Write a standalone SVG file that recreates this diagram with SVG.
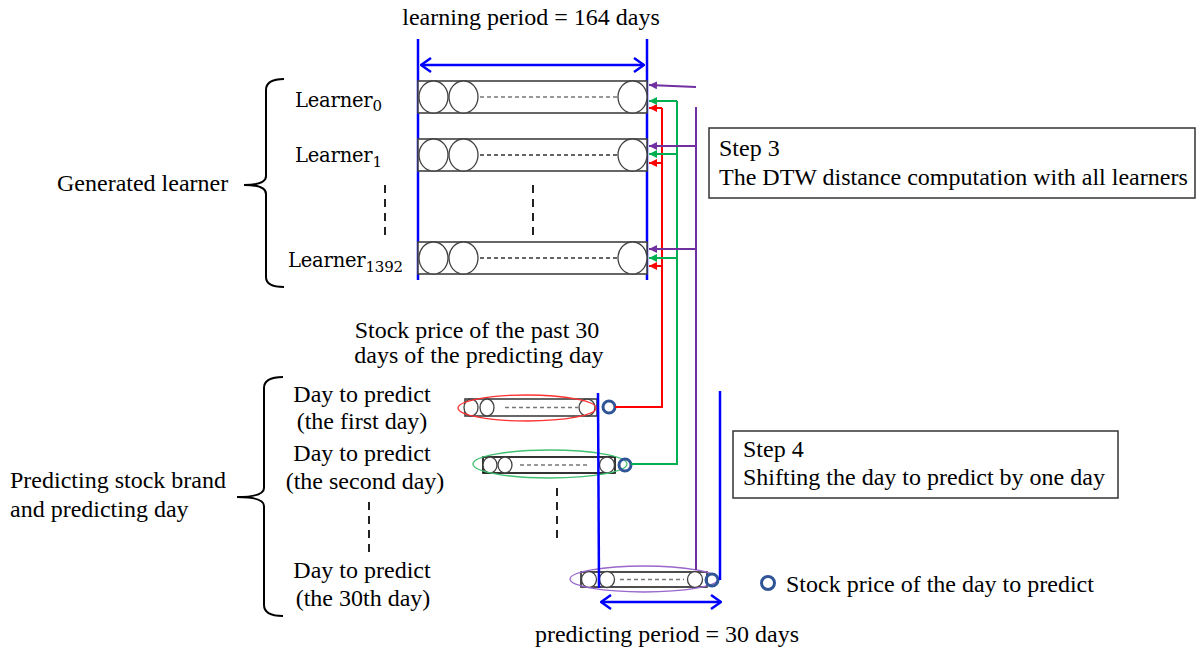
<svg xmlns="http://www.w3.org/2000/svg" width="1203" height="655" viewBox="0 0 1203 655">
<style>
.t{font-family:"Liberation Serif","Times New Roman",serif;font-size:24px;fill:#000}
.lt{font-family:"DejaVu Serif",serif;font-size:19.5px;fill:#000;letter-spacing:-0.2px}
.sub{font-size:15px}
.bar{fill:#fff;stroke:#404040;stroke-width:1.6}
.cir{fill:#fff;stroke:#404040;stroke-width:1.3}
.dash{stroke:#777;stroke-width:1.3;stroke-dasharray:4 3}
.vdash{stroke:#222;stroke-width:2;stroke-dasharray:8 6}
.blue{stroke:#0000ff;stroke-width:2.5;fill:none}
.dot{fill:none;stroke:#2f5597;stroke-width:3}
.box{fill:#fff;stroke:#333;stroke-width:1.5}
.brace{fill:none;stroke:#000;stroke-width:2}
.red{stroke:#ff0000;stroke-width:2;fill:none}
.grn{stroke:#00b050;stroke-width:2;fill:none}
.pur{stroke:#7030a0;stroke-width:2;fill:none}
</style>
<defs>
<marker id="ob" viewBox="0 0 12 16" refX="11" refY="8" markerWidth="12" markerHeight="16" markerUnits="userSpaceOnUse" orient="auto-start-reverse">
<path d="M1,1 L11,8 L1,15" fill="none" stroke="#0000ff" stroke-width="2.5"/>
</marker>
<marker id="ar" viewBox="0 0 8 8" refX="8" refY="4" markerWidth="8" markerHeight="8" markerUnits="userSpaceOnUse" orient="auto"><path d="M0,0 L8,4 L0,8 Z" fill="#ff0000"/></marker>
<marker id="ag" viewBox="0 0 8 8" refX="8" refY="4" markerWidth="8" markerHeight="8" markerUnits="userSpaceOnUse" orient="auto"><path d="M0,0 L8,4 L0,8 Z" fill="#00b050"/></marker>
<marker id="ap" viewBox="0 0 8 8" refX="8" refY="4" markerWidth="8" markerHeight="8" markerUnits="userSpaceOnUse" orient="auto"><path d="M0,0 L8,4 L0,8 Z" fill="#7030a0"/></marker>
</defs>

<g id="title">
<text class="t" x="531" y="25" text-anchor="middle">learning period = 164 days</text>
</g>

<g id="learning-period">
<line class="blue" x1="418" y1="39" x2="418" y2="280"/>
<line class="blue" x1="647" y1="39" x2="647" y2="280"/>
<line class="blue" x1="421" y1="65" x2="644" y2="65" marker-start="url(#ob)" marker-end="url(#ob)"/>
</g>

<g id="generated-learner">
<text class="t" x="57" y="191">Generated learner</text>
<path class="brace" d="M284,79 Q266,79 266,90 L266,176 Q266,185 244,185 Q266,185 266,194 L266,277 Q266,287 284,287"/>
</g>

<g id="learner0">
<text class="lt" x="295" y="107">Learner<tspan class="sub" dy="4">0</tspan></text>
<rect class="bar" x="418" y="81" width="229" height="32"/>
<ellipse class="cir" cx="433.5" cy="97" rx="14.5" ry="16"/>
<ellipse class="cir" cx="463.5" cy="97" rx="14.5" ry="16"/>
<line class="dash" x1="480" y1="97" x2="617" y2="97"/>
<ellipse class="cir" cx="632.5" cy="97" rx="14.5" ry="16"/>
</g>

<g id="learner1">
<text class="lt" x="295" y="162">Learner<tspan class="sub" dy="4.5">1</tspan></text>
<rect class="bar" x="418" y="139" width="229" height="32"/>
<ellipse class="cir" cx="433.5" cy="155" rx="14.5" ry="16"/>
<ellipse class="cir" cx="463.5" cy="155" rx="14.5" ry="16"/>
<line class="dash" x1="480" y1="155" x2="617" y2="155" style="stroke:#333"/>
<ellipse class="cir" cx="632.5" cy="155" rx="14.5" ry="16"/>
</g>

<g id="learner-ellipsis">
<line class="vdash" x1="385" y1="185" x2="385" y2="235"/>
<line class="vdash" x1="533" y1="185" x2="533" y2="235"/>
</g>

<g id="learner1392">
<text class="lt" x="288" y="267">Learner<tspan class="sub" dy="5">1392</tspan></text>
<rect class="bar" x="418" y="242" width="229" height="32"/>
<ellipse class="cir" cx="433.5" cy="258" rx="14.5" ry="16"/>
<ellipse class="cir" cx="463.5" cy="258" rx="14.5" ry="16"/>
<line class="dash" x1="480" y1="258" x2="617" y2="258" style="stroke:#333"/>
<ellipse class="cir" cx="632.5" cy="258" rx="14.5" ry="16"/>
</g>

<g id="step3">
<rect class="box" x="709" y="128" width="486" height="70"/>
<text class="t" x="719" y="156">Step 3</text>
<text class="t" x="719" y="185">The DTW distance computation with all learners</text>
</g>

<g id="past30-label">
<text class="t" x="477" y="338" text-anchor="middle">Stock price of the past 30</text>
<text class="t" x="479" y="363" text-anchor="middle">days of the predicting day</text>
</g>

<g id="predicting-label">
<text class="t" x="10" y="488">Predicting stock brand</text>
<text class="t" x="10" y="517">and predicting day</text>
<path class="brace" d="M283,377 Q264,377 264,388 L264,488 Q264,497 237,497 Q264,497 264,506 L264,605 Q264,616 283,616"/>
</g>

<g id="day1">
<text class="t" x="362" y="402" text-anchor="middle">Day to predict</text>
<text class="t" x="362" y="429" text-anchor="middle">(the first day)</text>
<rect class="bar" x="465" y="399" width="132" height="17"/>
<ellipse class="cir" cx="471" cy="407.5" rx="7" ry="8.5"/>
<ellipse class="cir" cx="487" cy="407.5" rx="7" ry="8.5"/>
<line class="dash" x1="505" y1="407.5" x2="578" y2="407.5"/>
<ellipse class="cir" cx="587" cy="407.5" rx="8" ry="8.5"/>
<ellipse cx="527" cy="408" rx="69" ry="13" fill="none" stroke="#ff3030" stroke-width="1.3"/>
<circle class="dot" cx="609" cy="407" r="6"/>
</g>

<g id="day2">
<text class="t" x="362" y="461" text-anchor="middle">Day to predict</text>
<text class="t" x="365" y="489" text-anchor="middle">(the second day)</text>
<rect class="bar" x="483" y="457" width="132" height="16" style="stroke:#000"/>
<ellipse class="cir" cx="490" cy="465" rx="7" ry="8"/>
<ellipse class="cir" cx="505" cy="465" rx="7" ry="8"/>
<line class="dash" x1="520" y1="465" x2="587" y2="465"/>
<ellipse class="cir" cx="607" cy="465" rx="7.5" ry="8"/>
<ellipse cx="550" cy="464" rx="77" ry="14" fill="none" stroke="#40c070" stroke-width="1.3"/>
<circle class="dot" cx="625" cy="465" r="6"/>
</g>

<g id="day-ellipsis">
<line class="vdash" x1="369" y1="502" x2="369" y2="552"/>
<line class="vdash" x1="557" y1="488" x2="557" y2="538"/>
</g>

<g id="day30">
<text class="t" x="362" y="578" text-anchor="middle">Day to predict</text>
<text class="t" x="363" y="606" text-anchor="middle">(the 30th day)</text>
<rect class="bar" x="581" y="572" width="126" height="15" style="stroke:#222"/>
<ellipse class="cir" cx="589" cy="579.5" rx="7.5" ry="8"/>
<ellipse class="cir" cx="607" cy="579.5" rx="7.5" ry="8"/>
<line class="dash" x1="620" y1="579.5" x2="684" y2="579.5"/>
<ellipse class="cir" cx="695" cy="579.5" rx="7.5" ry="8"/>
<ellipse cx="644" cy="579" rx="74" ry="13" fill="none" stroke="#9966cc" stroke-width="1.3"/>
<circle class="dot" cx="712" cy="580" r="6"/>
</g>

<g id="predicting-period">
<line class="blue" x1="598" y1="393" x2="599" y2="588"/>
<line class="blue" x1="720" y1="391" x2="720" y2="580"/>
<line class="blue" x1="601" y1="602" x2="721" y2="602" marker-start="url(#ob)" marker-end="url(#ob)"/>
<text class="t" x="667" y="642" text-anchor="middle">predicting period = 30 days</text>
</g>

<g id="step4">
<rect class="box" x="733" y="431" width="385" height="67"/>
<text class="t" x="743" y="457">Step 4</text>
<text class="t" x="743" y="485">Shifting the day to predict by one day</text>
</g>

<g id="legend">
<circle class="dot" cx="768" cy="583" r="6.5"/>
<text class="t" x="786" y="592">Stock price of the day to predict</text>
</g>

<g id="connectors">
<path class="red" d="M615,407 L662,407 L662,108"/>
<line class="red" x1="662" y1="108" x2="649" y2="108" marker-end="url(#ar)"/>
<line class="red" x1="662" y1="163" x2="649" y2="163" marker-end="url(#ar)"/>
<line class="red" x1="662" y1="266" x2="649" y2="266" marker-end="url(#ar)"/>
<path class="grn" d="M631,464 L677,464 L677,101"/>
<line class="grn" x1="677" y1="101" x2="649" y2="101" marker-end="url(#ag)"/>
<line class="grn" x1="677" y1="154" x2="649" y2="154" marker-end="url(#ag)"/>
<line class="grn" x1="677" y1="258" x2="649" y2="258" marker-end="url(#ag)"/>
<line class="pur" x1="696" y1="107" x2="696" y2="570"/>
<line class="pur" x1="696" y1="87" x2="649" y2="85" marker-end="url(#ap)"/>
<line class="pur" x1="696" y1="146" x2="649" y2="146" marker-end="url(#ap)"/>
<line class="pur" x1="696" y1="249" x2="649" y2="249" marker-end="url(#ap)"/>
</g>
</svg>
